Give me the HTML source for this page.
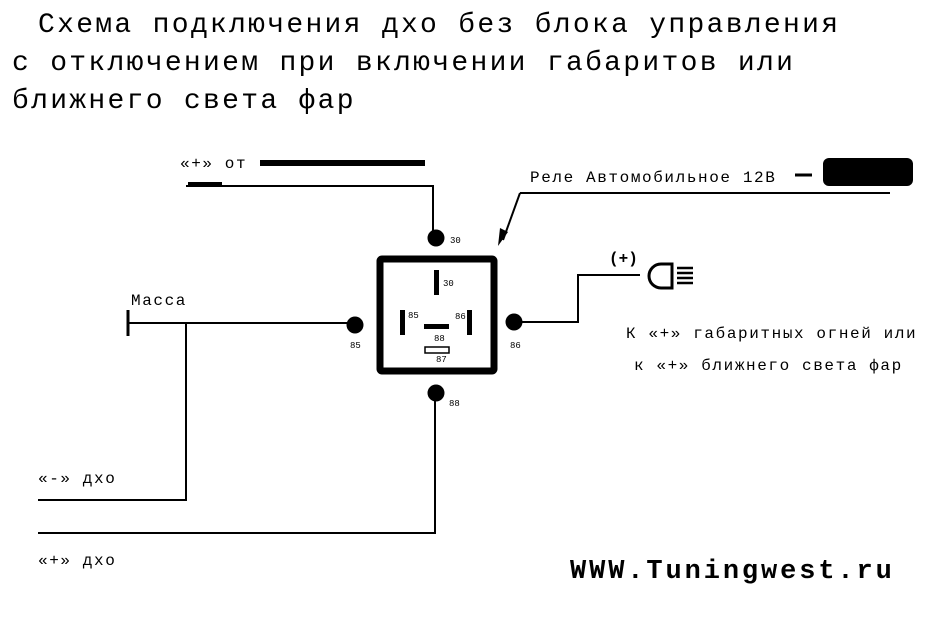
<!DOCTYPE html>
<html><head><meta charset="utf-8"><style>
html,body{margin:0;padding:0;background:#fff}
svg{display:block}
text{font-family:"Liberation Mono",monospace;fill:#000}
</style></head><body>
<svg width="944" height="624" viewBox="0 0 944 624" xmlns="http://www.w3.org/2000/svg">
<g font-size="28" letter-spacing="2.3">
<text x="38" y="32">Схема подключения дхо без блока управления</text>
<text x="12" y="70">с отключением при включении габаритов или</text>
<text x="12" y="108">ближнего света фар</text>
</g>

<g stroke="#000" stroke-width="2" fill="none">
<path d="M186 186 H433 V232"/>
<path d="M520 193 H890"/>
<path d="M520 193 L503 240"/>
<path d="M128 323 H352"/>
<path d="M128 310 V336" stroke-width="3"/>
<path d="M186 323 V500 H38"/>
<path d="M435 395 V533 H38"/>
<path d="M514 322 H578 V275 H640"/>
</g>
<path d="M498 246 L500 228 L508 232 Z" fill="#000"/>
<path d="M260 163 H425" stroke="#000" stroke-width="6"/>
<path d="M188 184 H222" stroke="#000" stroke-width="4"/>
<path d="M795 175 H812" stroke="#000" stroke-width="3"/>
<rect x="823" y="158" width="90" height="28" rx="6" fill="#000"/>

<g font-size="16" letter-spacing="1.6">
<text x="180" y="168">«+» от</text>
<text x="530" y="182">Реле Автомобильное 12В</text>
<text x="131" y="305">Масса</text>
<text x="626" y="338">К «+» габаритных огней или</text>
<text x="634" y="370">к «+» ближнего света фар</text>
<text x="38" y="483">«-» дхо</text>
<text x="38" y="565">«+» дхо</text>
</g>
<text x="570" y="578" font-size="27" font-weight="bold" letter-spacing="2.9">WWW.Tuningwest.ru</text>

<rect x="380" y="259" width="114" height="112" fill="none" stroke="#000" stroke-width="7" rx="2"/>
<circle cx="436" cy="238" r="8.5" fill="#000"/>
<circle cx="355" cy="325" r="8.5" fill="#000"/>
<circle cx="514" cy="322" r="8.5" fill="#000"/>
<circle cx="436" cy="393" r="8.5" fill="#000"/>
<rect x="434" y="270" width="5" height="25" fill="#000"/>
<rect x="400" y="310" width="5" height="25" fill="#000"/>
<rect x="467" y="310" width="5" height="25" fill="#000"/>
<rect x="424" y="324" width="25" height="5" fill="#000"/>
<rect x="425" y="347" width="24" height="6" fill="#fff" stroke="#000" stroke-width="1.5"/>
<g font-size="9" style="font-family:'Liberation Sans',sans-serif">
<text x="450" y="243">30</text>
<text x="443" y="286">30</text>
<text x="408" y="318">85</text>
<text x="455" y="319">86</text>
<text x="434" y="341">88</text>
<text x="436" y="362">87</text>
<text x="350" y="348">85</text>
<text x="510" y="348">86</text>
<text x="449" y="406">88</text>
</g>
<text x="609" y="263" font-size="16" font-weight="bold">(+)</text>
<path d="M672 264 H661 A12 12 0 0 0 661 288 H672 Z" fill="none" stroke="#000" stroke-width="3"/>
<g stroke="#000" stroke-width="2.5"><path d="M677 268 H693 M677 273 H693 M677 278 H693 M677 283 H693"/></g>
</svg>
</body></html>
